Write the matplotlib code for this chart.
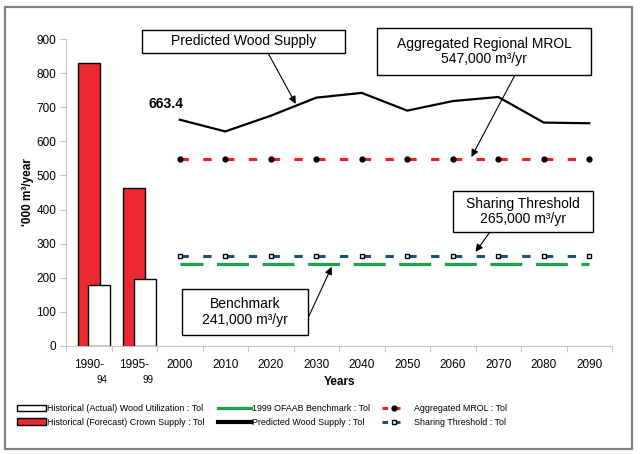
import numpy as np
import matplotlib.pyplot as plt
from matplotlib.lines import Line2D
from matplotlib.patches import Patch, Rectangle
import matplotlib.transforms as mtransforms

plt.rcParams['font.family'] = ['Liberation Sans', 'DejaVu Sans']
plt.rcParams['lines.scale_dashes'] = False

categories = ['1990-', '1995-', '2000', '2010', '2020', '2030', '2040',
              '2050', '2060', '2070', '2080', '2090']
sub_labels = ['94', '99']
crown_supply = [830, 464]
wood_utilization = [178, 195]
predicted = [663.4, 629, 675, 728, 742, 690, 718, 730, 655, 653]
mrol = [547] * 10
sharing = [265] * 10
benchmark = [241] * 10

W, H = 640, 454
fig = plt.figure(figsize=(6.4, 4.54), dpi=100)
ax = fig.add_axes([66 / W, 1 - 346 / H, (612 - 66) / W, (346 - 39) / H])


def fx(px):
    return px / W


def fy(py):
    return 1 - py / H


red = '#ec2a2f'
green = '#17a34a'
blue = '#1d4f7c'

hist_x = np.arange(len(crown_supply))
ax.bar(hist_x, crown_supply, width=0.48, color=red, edgecolor='black', linewidth=1, zorder=2)
ax.bar(hist_x + 0.23, wood_utilization, width=0.48, color='white', edgecolor='black', linewidth=1, zorder=3)

yr_x = np.arange(2, len(categories))
ax.plot(yr_x, benchmark, color=green, lw=2.3, zorder=3, linestyle=(6.5, (23, 9.8)))
ax.plot(yr_x, sharing, color=blue, lw=2.2, marker='s', ms=3.2, mfc='white', mec='black',
        mew=1, zorder=4, linestyle=(0, (6, 10.4)))
ax.plot(yr_x, mrol, color='#ff1a1a', lw=2.2, marker='o', ms=3.5, mfc='black', mec='black',
        zorder=4, linestyle=(0, (6, 10.4)))
ax.plot(yr_x, predicted, color='black', lw=1.6, zorder=5)

ax.annotate(f'{predicted[0]:.1f}', xy=(yr_x[0], predicted[0]), xytext=(-10, 11.5),
            textcoords='offset points', ha='center', va='center',
            fontsize=10, fontweight='bold')

ax.set_xlim(-0.5, len(categories) - 0.5)
ax.set_ylim(0, 900)
ax.set_yticks(np.arange(0, 901, 100))
ax.set_xticks(np.arange(len(categories)))
ax.set_xticklabels(categories)
ax.set_xticks(np.arange(-0.5, len(categories)), minor=True)
ax.tick_params(axis='x', which='major', length=0, pad=9, labelsize=8.5)
ax.tick_params(axis='x', which='minor', length=4, color='#bfbfbf')
ax.tick_params(axis='y', length=4, color='#bfbfbf', labelsize=8.5, pad=3)
for s in ['top', 'right']:
    ax.spines[s].set_visible(False)
for s in ['left', 'bottom']:
    ax.spines[s].set_color('#c8c8c8')
ax.patch.set_alpha(0)

trans = mtransforms.blended_transform_factory(ax.transData, ax.transAxes)
for i, lab in enumerate(sub_labels):
    ax.text(i + 0.3, -0.111, lab, transform=trans, ha='center', va='center', fontsize=7)

ax.set_xlabel('Years', fontsize=8.5, fontweight='bold', labelpad=4)
ax.set_ylabel("'000 m³/year", fontsize=8.5, fontweight='bold', labelpad=2)

# callout boxes (pixel positions of the reference)
boxes = [
    ((142, 30, 345, 53), 'Predicted Wood Supply', (268, 53), (4.55, 710)),
    ((377, 28, 591, 75), 'Aggregated Regional MROL\n547,000 m³/yr', (515, 75), (8.41, 554)),
    ((453, 191, 593, 232), 'Sharing Threshold\n265,000 m³/yr', (490, 232), (8.5, 276)),
    ((182, 289, 308, 335), 'Benchmark\n241,000 m³/yr', (308, 318), (5.34, 232)),
]
for (x0, y0, x1, y1), txt, start, tip in boxes:
    fig.patches.append(Rectangle((fx(x0), fy(y1)), fx(x1) - fx(x0), fy(y0) - fy(y1),
                                 transform=fig.transFigure, facecolor='white',
                                 edgecolor='black', lw=1, zorder=6))
    fig.text(fx((x0 + x1) / 2), fy((y0 + y1) / 2), txt, ha='center', va='center',
             fontsize=10, linespacing=1.15, zorder=7)
    ax.annotate('', xy=tip, xytext=(fx(start[0]), fy(start[1])), textcoords='figure fraction',
                arrowprops=dict(arrowstyle='-|>', color='black', lw=0.8, mutation_scale=11,
                                shrinkA=0, shrinkB=0), zorder=7)

# outer frame
fig.patches.append(Rectangle((fx(5), fy(449)), fx(632) - fx(5), fy(7) - fy(449),
                             transform=fig.transFigure, fill=False,
                             edgecolor='#808080', lw=1.6))

# legend in three columns
h_actual = Patch(facecolor='white', edgecolor='black', lw=1)
h_forecast = Patch(facecolor=red, edgecolor='black', lw=1)
h_bench = Line2D([], [], color=green, lw=2.3)
h_pred = Line2D([], [], color='black', lw=3)
h_mrol = Line2D([], [], color='#ff1a1a', lw=2.2, marker='o', ms=3.5, mfc='black', mec='black',
                linestyle=(0, (4, 5)))
h_share = Line2D([], [], color=blue, lw=2.2, marker='s', ms=3.2, mfc='white', mec='black',
                 linestyle=(0, (4, 5)))

leg_kw = dict(frameon=False, fontsize=6.4, loc='upper left', labelspacing=0.55,
              handleheight=0.8, borderaxespad=0, borderpad=0)
fig.legend([h_actual, h_forecast],
           ['Historical (Actual) Wood Utilization : Tol',
            'Historical (Forecast) Crown Supply : Tol'],
           bbox_to_anchor=(fx(17), fy(404)), handlelength=3.3, handletextpad=0.1, **leg_kw)
fig.legend([h_bench, h_pred],
           ['1999 OFAAB Benchmark : Tol', 'Predicted Wood Supply : Tol'],
           bbox_to_anchor=(fx(218), fy(404)), handlelength=3.7, handletextpad=0.1, **leg_kw)
fig.legend([h_mrol, h_share],
           ['Aggregated MROL : Tol', 'Sharing Threshold : Tol'],
           bbox_to_anchor=(fx(382), fy(404)), handlelength=2.7, handletextpad=0.9, **leg_kw)

fig.savefig('out.png', dpi=100)
